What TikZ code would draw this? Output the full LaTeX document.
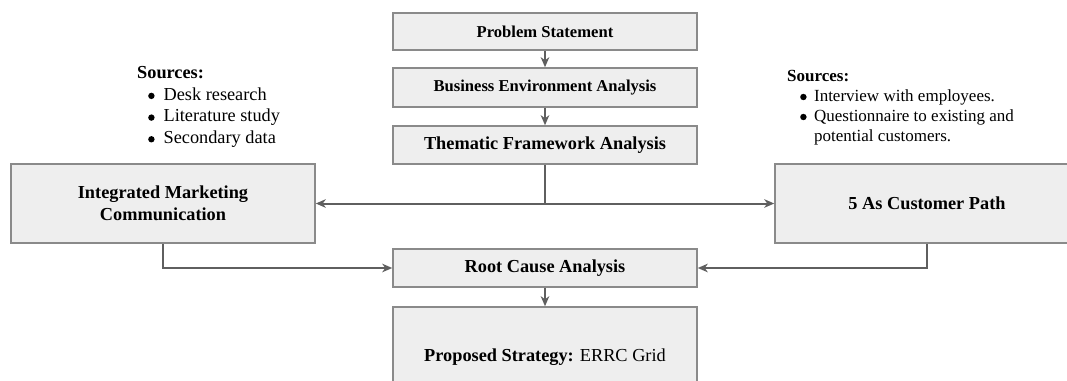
\documentclass[tikz,border=0pt]{standalone}
\usepackage{fontspec}
\setmainfont{Liberation Serif}
\usetikzlibrary{arrows.meta}
\definecolor{boxfill}{HTML}{EEEEEE}
\definecolor{boxline}{HTML}{8A8A8A}
\definecolor{conline}{HTML}{5F5F5F}
\newcommand{\bigbul}[1]{\tikz[baseline=-4.2pt]\fill[black] (0pt,0pt) circle (3.2pt);\hspace{#1}}
\tikzset{
  stepbox/.style={draw=boxline, line width=1.5pt, fill=boxfill, inner sep=0pt, align=center,
    minimum width=304pt, font=\bfseries\fontsize{18.3}{22}\selectfont},
  smallbox/.style={stepbox, font=\bfseries\fontsize{16.6}{20}\selectfont},
  conn/.style={draw=conline, line width=2pt, -{Stealth[length=10pt,width=8.5pt,inset=3pt]}},
  plain/.style={draw=conline, line width=2pt},
  srclist/.style={anchor=north west, inner sep=0pt, align=left},
}
\begin{document}
\begin{tikzpicture}[x=1pt,y=-1pt]
\useasboundingbox (0,0) rectangle (1067,380);
\clip (0,0) rectangle (1067,380);
% boxes
\node[smallbox, minimum height=37pt] (ps) at (545,31.5) {Problem Statement};
\node[smallbox, minimum height=39pt] (bea) at (545,87.5) {Business Environment Analysis};
\node[stepbox, minimum height=38pt] (tfa) at (545,145) {Thematic Framework Analysis};
\node[stepbox, minimum height=79pt] (imc) at (163,203.5) {Integrated Marketing\\Communication};
\node[stepbox, minimum height=79pt] (fas) at (927,203.5) {5 As Customer Path};
\node[stepbox, minimum height=38pt] (rca) at (545,268) {Root Cause Analysis};
\node[stepbox, minimum height=100pt] (pse) at (545,357) {Proposed Strategy: \textmd{ERRC Grid}};
% connectors
\coordinate (split) at (545,203.5);
\draw[conn] (ps) -- (bea);
\draw[conn] (bea) -- (tfa);
\draw[plain] (tfa.south) -- (split);
\draw[conn] (split) -- (imc.east);
\draw[conn] (split) -- (fas.west);
\draw[conn] (imc.south) |- (rca.west);
\draw[conn] (fas.south) |- (rca.east);
\draw[conn] (rca) -- (pse);
% left sources
\node[srclist, font=\fontsize{18.3}{21.7}\selectfont] (lsrc) at (137,63) {\strut\textbf{Sources:}\\
\hspace*{11pt}\bigbul{9pt}Desk research\\
\hspace*{11pt}\bigbul{9pt}Literature study\\
\hspace*{11pt}\bigbul{9pt}Secondary data};
% right sources
\node[srclist, font=\fontsize{17}{20}\selectfont] (rsrc) at (787,67) {\strut\textbf{Sources:}\\
\hspace*{13pt}\bigbul{7.5pt}Interview with employees.\\
\hspace*{13pt}\bigbul{7.5pt}Questionnaire to existing and\\
\hspace*{27pt}potential customers.};
\end{tikzpicture}
\end{document}
